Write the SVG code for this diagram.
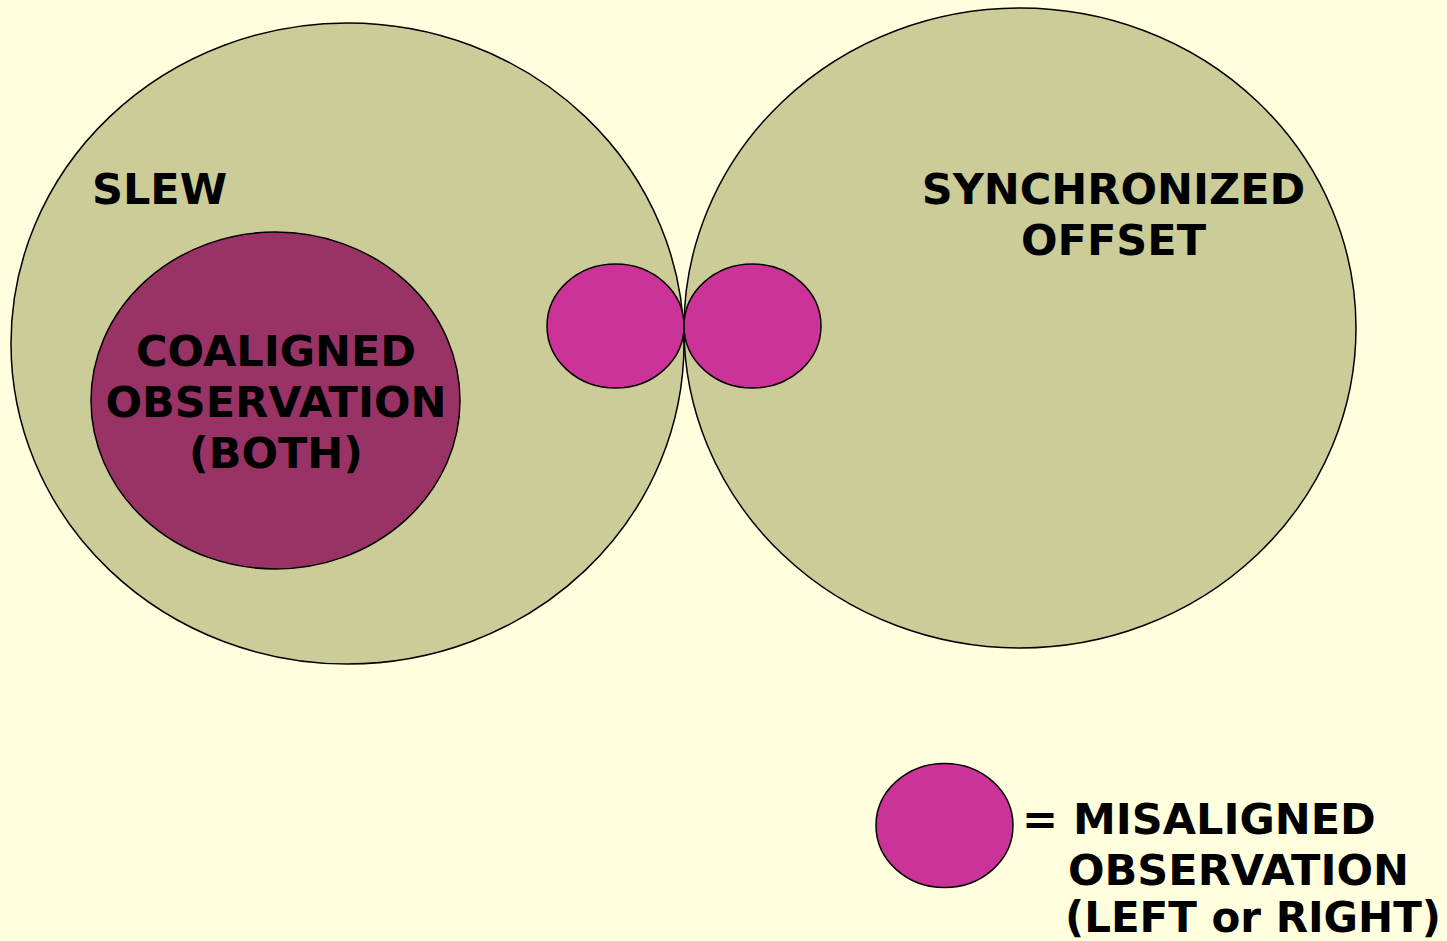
<svg xmlns="http://www.w3.org/2000/svg" width="1447" height="941" viewBox="0 0 1447 941">
<style>
.big{fill:#cccc99;stroke:#000;stroke-width:1.5}
.dark{fill:#993366;stroke:#000;stroke-width:1.5}
.mis{fill:#cc3399;stroke:#000;stroke-width:1.5}
text{font-family:"DejaVu Sans","Liberation Sans",sans-serif;font-weight:bold;font-size:43px;fill:#000}
.c{text-anchor:middle}
</style>
<rect x="0" y="0" width="1447" height="941" fill="#ffffdd"/>
<g id="slew">
<ellipse class="big" cx="347.5" cy="343.5" rx="336.5" ry="320.5"/>
<text x="92" y="204">SLEW</text>
</g>
<g id="synchronized-offset">
<ellipse class="big" cx="1020" cy="328" rx="336" ry="320"/>
<text class="c" x="1113.5" y="204">SYNCHRONIZED</text>
<text class="c" x="1113.5" y="255">OFFSET</text>
</g>
<g id="coaligned">
<ellipse class="dark" cx="275.5" cy="400.5" rx="184.5" ry="168.5"/>
<text class="c" x="276" y="366">COALIGNED</text>
<text class="c" x="276" y="417">OBSERVATION</text>
<text class="c" x="276" y="468">(BOTH)</text>
</g>
<g id="misaligned-left">
<ellipse class="mis" cx="615.5" cy="326" rx="68.5" ry="62"/>
</g>
<g id="misaligned-right">
<ellipse class="mis" cx="752.5" cy="326" rx="68.5" ry="62"/>
</g>
<g id="legend">
<ellipse class="mis" cx="944.5" cy="825.5" rx="68.5" ry="62"/>
<text x="1022" y="834">= MISALIGNED</text>
<text x="1068" y="885">OBSERVATION</text>
<text x="1065" y="932" textLength="376" lengthAdjust="spacingAndGlyphs">(LEFT or RIGHT)</text>
</g>
<g id="connectors"/>
</svg>
